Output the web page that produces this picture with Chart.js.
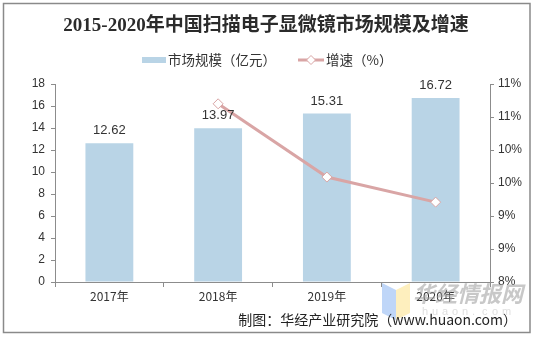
<!DOCTYPE html>
<html>
<head>
<meta charset="utf-8">
<script src="https://cdn.jsdelivr.net/npm/chart.js@4.4.1/dist/chart.umd.min.js"></script>
<style>
  html, body { margin: 0; padding: 0; background: #fff; }
  #wrap { width: 533px; height: 337px; position: relative; }
</style>
</head>
<body>
<div id="wrap"><canvas id="c" width="533" height="337"></canvas></div>
<script>
// 2017–2020 market size (100 million yuan) and year-on-year growth (%)
const years = ['2017年', '2018年', '2019年', '2020年'];
const marketSize = [12.62, 13.97, 15.31, 16.72];
const growthRate = [null, 10.70, 9.59, 9.21];

const titleText = '2015-2020年中国扫描电子显微镜市场规模及增速';
const sizeLabel = '市场规模（亿元）';
const growthLabel = '增速（%）';
const sourceText = '制图：华经产业研究院（www.huaon.com）';

const BAR_COLOR = '#b9d4e6';
const LINE_COLOR = '#d9a5a5';
const AXIS_COLOR = '#8c8c8c';
const TEXT_COLOR = '#333333';
const CJK = '"Noto Sans CJK SC", "Liberation Sans", sans-serif';

// Frame, title, legend, value labels, watermark and source line
const decorations = {
  id: 'decorations',
  beforeDraw(chart) {
    const ctx = chart.ctx;
    ctx.save();
    ctx.fillStyle = '#ffffff';
    ctx.fillRect(0, 0, chart.width, chart.height);
    ctx.restore();
  },
  afterDatasetsDraw(chart) {
    const ctx = chart.ctx;
    ctx.save();
    // value labels above the bars (bar dataset is index 1)
    const meta = chart.getDatasetMeta(1);
    ctx.font = '13px "Liberation Sans", Arial, sans-serif';
    ctx.fillStyle = TEXT_COLOR;
    ctx.textAlign = 'center';
    ctx.textBaseline = 'bottom';
    meta.data.forEach((bar, i) => {
      ctx.fillText(marketSize[i].toFixed(2), bar.x, bar.y - 6);
    });
    ctx.restore();
  },
  afterDraw(chart) {
    const ctx = chart.ctx;
    ctx.save();

    // outer frame
    ctx.strokeStyle = '#8a8a8a';
    ctx.lineWidth = 1.5;
    ctx.strokeRect(3.5, 3.5, 526.5, 329);

    // title
    ctx.fillStyle = '#2b2b2b';
    ctx.textAlign = 'center';
    ctx.textBaseline = 'middle';
    ctx.font = 'bold 19px "Liberation Serif", "Noto Sans CJK SC", serif';
    ctx.fillText(titleText, 266, 26);

    // legend: bar swatch
    ctx.fillStyle = BAR_COLOR;
    ctx.fillRect(142, 57, 24, 6);
    ctx.fillStyle = TEXT_COLOR;
    ctx.textAlign = 'left';
    ctx.font = '13.5px ' + CJK;
    ctx.fillText(sizeLabel, 168, 60);

    // legend: line with diamond marker
    ctx.strokeStyle = LINE_COLOR;
    ctx.lineWidth = 3;
    ctx.beginPath();
    ctx.moveTo(298, 60);
    ctx.lineTo(324, 60);
    ctx.stroke();
    ctx.fillStyle = '#ffffff';
    ctx.lineWidth = 1;
    ctx.beginPath();
    ctx.moveTo(311, 55.5);
    ctx.lineTo(315.5, 60);
    ctx.lineTo(311, 64.5);
    ctx.lineTo(306.5, 60);
    ctx.closePath();
    ctx.fill();
    ctx.stroke();
    ctx.fillStyle = TEXT_COLOR;
    ctx.fillText(growthLabel, 326, 60);

    // watermark
    ctx.globalAlpha = 0.75;
    ctx.fillStyle = '#a9c8f5';
    ctx.beginPath();
    ctx.moveTo(382, 283);
    ctx.lineTo(396, 290);
    ctx.lineTo(396, 320);
    ctx.lineTo(382, 313);
    ctx.closePath();
    ctx.fill();
    ctx.fillStyle = '#fde9a8';
    ctx.beginPath();
    ctx.moveTo(396, 290);
    ctx.lineTo(410, 283);
    ctx.lineTo(410, 313);
    ctx.lineTo(396, 320);
    ctx.closePath();
    ctx.fill();
    ctx.globalAlpha = 0.55;
    ctx.fillStyle = '#9a9a9a';
    ctx.font = 'italic bold 22px ' + CJK;
    ctx.textAlign = 'left';
    ctx.fillText('华经情报网', 413, 294);
    ctx.fillStyle = '#c4c4c4';
    ctx.font = '11px "Liberation Sans", sans-serif';
    const wm = 'huaon.com';
    for (let i = 0; i < wm.length; i++) {
      ctx.fillText(wm[i], 422 + i * 10, 312);
    }
    ctx.globalAlpha = 1;

    // source line
    ctx.fillStyle = '#222222';
    ctx.textAlign = 'right';
    ctx.font = '14px ' + CJK;
    ctx.fillText(sourceText, 517, 320);

    ctx.restore();
  }
};

new Chart(document.getElementById('c'), {
  data: {
    labels: years,
    datasets: [
      {
        type: 'line',
        label: growthLabel,
        data: growthRate,
        yAxisID: 'y1',
        borderColor: LINE_COLOR,
        borderWidth: 3,
        pointStyle: 'rectRot',
        pointRadius: 5,
        pointBorderWidth: 1,
        pointBackgroundColor: '#ffffff',
        pointBorderColor: LINE_COLOR,
        tension: 0,
        order: 0
      },
      {
        type: 'bar',
        label: sizeLabel,
        data: marketSize,
        yAxisID: 'y',
        backgroundColor: BAR_COLOR,
        barPercentage: 0.44,
        categoryPercentage: 1,
        order: 1
      }
    ]
  },
  options: {
    responsive: false,
    animation: false,
    devicePixelRatio: 1,
    layout: { padding: { top: 84, left: 0, right: 0, bottom: 0 } },
    plugins: {
      legend: { display: false },
      title: { display: false },
      tooltip: { enabled: false }
    },
    scales: {
      x: {
        offset: true,
        grid: {
          offset: true,
          drawOnChartArea: false,
          drawTicks: true,
          tickLength: 5,
          color: AXIS_COLOR
        },
        border: { color: AXIS_COLOR, width: 1 },
        ticks: {
          color: TEXT_COLOR,
          font: { family: CJK, size: 12 },
          padding: 2
        },
        afterFit(scale) { scale.height = 55; }
      },
      y: {
        position: 'left',
        min: 0,
        max: 18,
        ticks: {
          stepSize: 2,
          color: TEXT_COLOR,
          font: { family: '"Liberation Sans", Arial, sans-serif', size: 12 },
          padding: 6
        },
        grid: {
          drawOnChartArea: false,
          tickLength: 4,
          color: AXIS_COLOR
        },
        border: { color: AXIS_COLOR, width: 1 },
        afterFit(scale) { scale.width = 55; }
      },
      y1: {
        position: 'right',
        min: 8,
        max: 11,
        ticks: {
          stepSize: 0.5,
          color: TEXT_COLOR,
          font: { family: '"Liberation Sans", Arial, sans-serif', size: 12 },
          padding: 4,
          callback: (v) => Math.round(v) + '%'
        },
        grid: {
          drawOnChartArea: false,
          tickLength: 4,
          color: AXIS_COLOR
        },
        border: { color: AXIS_COLOR, width: 1 },
        afterFit(scale) { scale.width = 43; }
      }
    }
  },
  plugins: [decorations]
});
</script>
</body>
</html>
